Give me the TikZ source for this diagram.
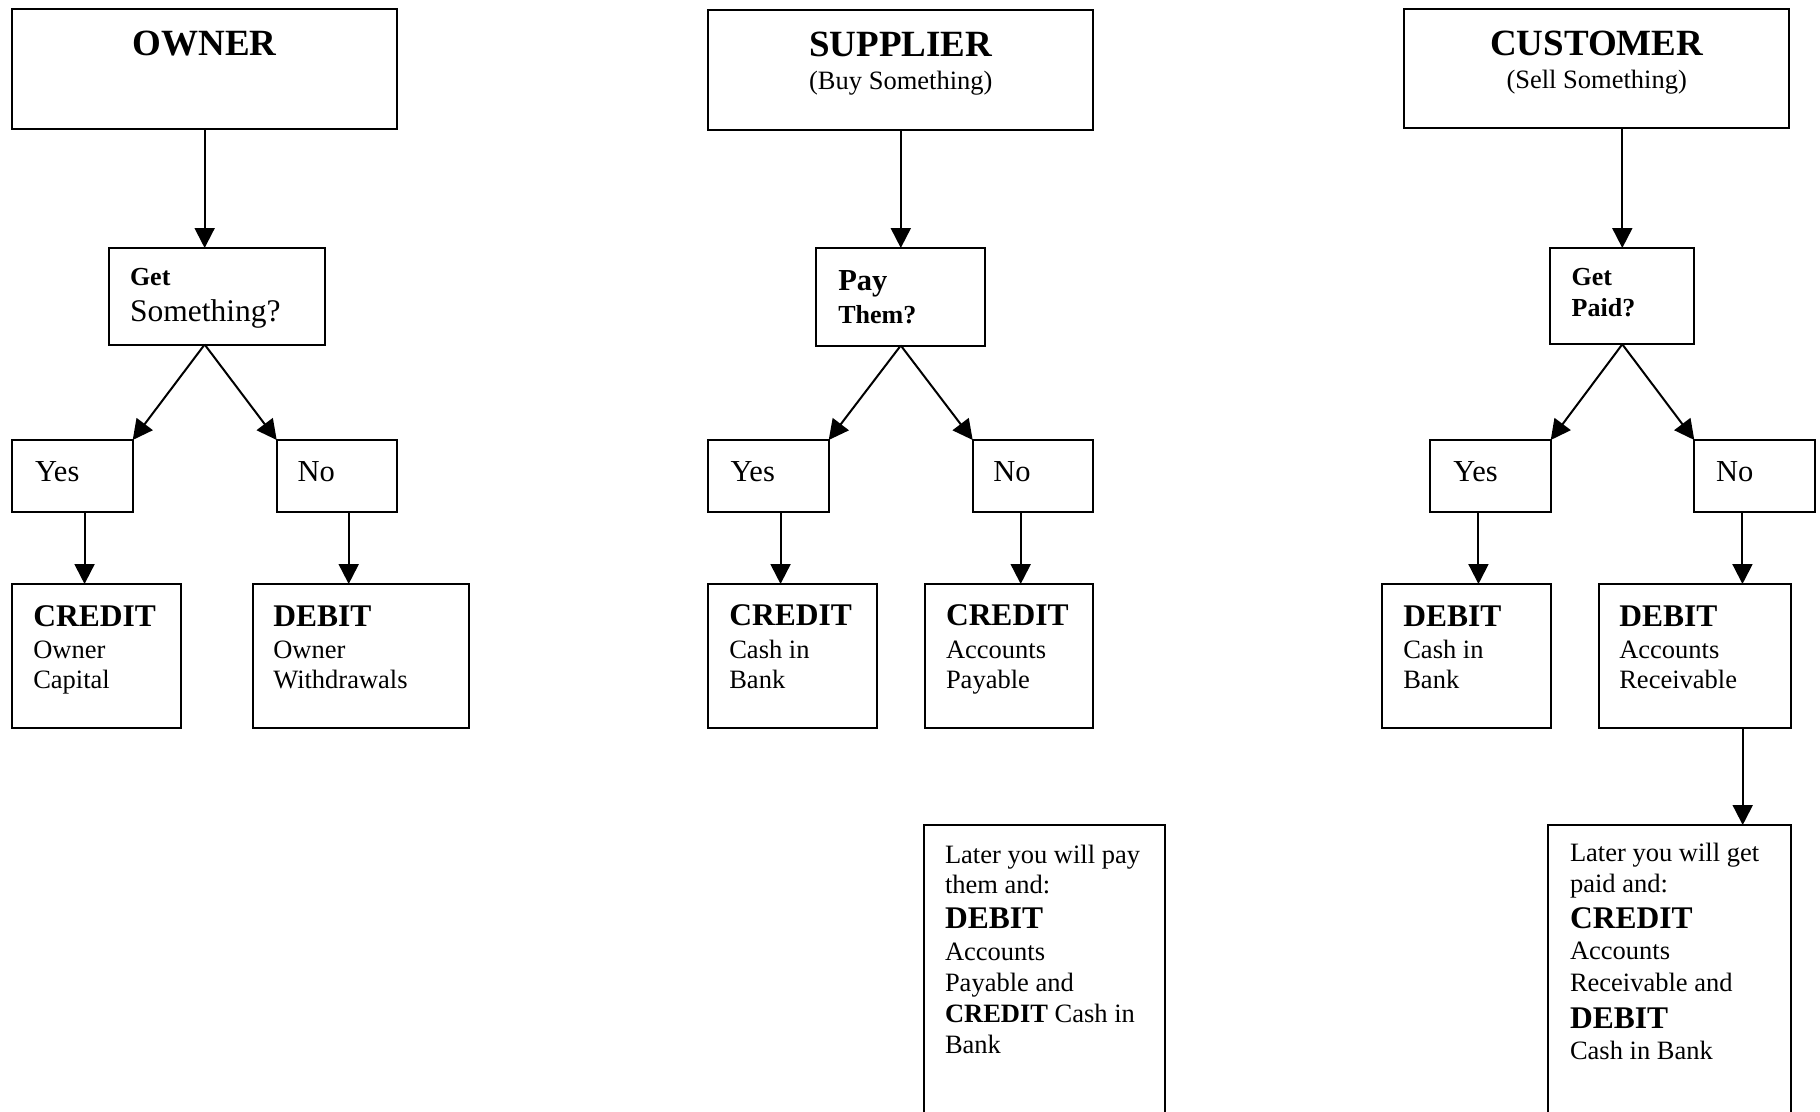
\documentclass[tikz,border=0pt]{standalone}
\usepackage{fontspec}
\setmainfont{Liberation Serif}
\usetikzlibrary{arrows.meta,calc}

% a framed box given by its corners (x1,y1) and (x2,y2)
\newcommand\mkbox[5]{\node[box, minimum width={#4-#2}, minimum height={#5-#3}] (#1) at ({(#2+#4)/2},{(#3+#5)/2}) {};}
% one line of text, placed by its baseline
\newcommand\tline[5][txt]{\node[#1] (#2) at (#3,#4) {#5};}

\begin{document}
\begin{tikzpicture}[x=1pt,y=-1pt,
  box/.style={draw, line width=2pt, rectangle, inner sep=0pt, outer sep=0pt},
  arr/.style={line width=2pt, -{Triangle[length=20pt,width=20pt]}},
  txt/.style={anchor=base west, inner sep=0pt, outer sep=0pt, font=\fontsize{26.5}{30}\selectfont},
  ttl/.style={anchor=base, inner sep=0pt, font=\fontsize{37}{42}\selectfont\bfseries},
  sub/.style={anchor=base, inner sep=0pt, font=\fontsize{26.5}{30}\selectfont},
  yn/.style={txt, font=\fontsize{30.5}{34}\selectfont},
  kw/.style={txt, font=\fontsize{31.5}{36}\selectfont\bfseries},
  qsmall/.style={txt, font=\fontsize{26}{30}\selectfont\bfseries},
  qbig/.style={txt, font=\fontsize{31.5}{36}\selectfont},
  qbigb/.style={txt, font=\fontsize{30.5}{34}\selectfont\bfseries},
]
\useasboundingbox (0,0) rectangle (1820,1111);
\clip (0,0) rectangle (1820,1111);

% ---------------- OWNER ----------------
\mkbox{owner}{12.3}{8.7}{397}{128.7}
\mkbox{qA}{108.7}{248}{325}{344.5}
\mkbox{yesa}{12.3}{440}{132.7}{512.3}
\mkbox{noa}{276.7}{440}{396.7}{512.3}
\mkbox{ra}{12.3}{584}{181}{728.3}
\mkbox{rb}{252.7}{584}{469.3}{728.3}

\tline[ttl]{owner-t}{204.7}{55}{OWNER}
\tline[qsmall]{qA-1}{130}{285}{Get}
\tline[qbig]{qA-2}{130}{321.7}{Something?}
\tline[yn]{yesa-t}{35}{481}{Yes}
\tline[yn]{noa-t}{297.7}{481}{No}
\tline[kw]{ra-1}{33.3}{626.7}{CREDIT}
\tline{ra-2}{33.3}{658.3}{Owner}
\tline{ra-3}{33.3}{688.3}{Capital}
\tline[kw]{rb-1}{273.3}{626.7}{DEBIT}
\tline{rb-2}{273.3}{658.3}{Owner}
\tline{rb-3}{273.3}{688.3}{Withdrawals}

\draw[arr] (owner.south) -- (owner.south |- qA.north);
\coordinate (qA-out) at (owner.south |- qA.south);
\draw[arr] (qA-out) -- (yesa.north east);
\draw[arr] (qA-out) -- (noa.north west);
\coordinate (ya) at ($(yesa.south west)!0.6!(yesa.south east)$);
\draw[arr] (ya) -- (ya |- ra.north);
\coordinate (na) at ($(noa.south west)!0.6!(noa.south east)$);
\draw[arr] (na) -- (na |- rb.north);

% ---------------- SUPPLIER ----------------
\mkbox{supplier}{708.3}{9.7}{1093.3}{130}
\mkbox{qB}{816.3}{248}{985}{345.5}
\mkbox{yesb}{708.3}{440}{828.7}{512.3}
\mkbox{nob}{972.7}{440}{1092.7}{512.3}
\mkbox{rc}{708.3}{584}{876.7}{728.3}
\mkbox{rd}{924.5}{584}{1093}{728.3}
\mkbox{la}{924}{824.5}{1165}{1140}

\tline[ttl]{supplier-t}{900.8}{56}{SUPPLIER}
\tline[sub]{supplier-s}{900.8}{89.3}{(Buy Something)}
\tline[qbigb]{qB-1}{838.3}{290}{Pay}
\tline[qsmall]{qB-2}{838.3}{323.3}{Them?}
\tline[yn]{yesb-t}{730.5}{481}{Yes}
\tline[yn]{nob-t}{993.3}{481}{No}
\tline[kw]{rc-1}{729.3}{625.5}{CREDIT}
\tline{rc-2}{729.3}{658.3}{Cash in}
\tline{rc-3}{729.3}{688.3}{Bank}
\tline[kw]{rd-1}{946}{625.5}{CREDIT}
\tline{rd-2}{946}{658.3}{Accounts}
\tline{rd-3}{946}{688.3}{Payable}
\tline{la-1}{945}{863.3}{Later you will pay}
\tline{la-2}{945}{893.3}{them and:}
\tline[kw]{la-3}{945}{928.3}{DEBIT}
\tline{la-4}{945}{960}{Accounts}
\tline{la-5}{945}{991.7}{Payable and}
\tline{la-6}{945}{1022.7}{\textbf{CREDIT} Cash in}
\tline{la-7}{945}{1053.3}{Bank}

\draw[arr] (supplier.south) -- (supplier.south |- qB.north);
\coordinate (qB-out) at (supplier.south |- qB.south);
\draw[arr] (qB-out) -- (yesb.north east);
\draw[arr] (qB-out) -- (nob.north west);
\coordinate (yb) at ($(yesb.south west)!0.6!(yesb.south east)$);
\draw[arr] (yb) -- (yb |- rc.north);
\coordinate (nb) at ($(nob.south west)!0.4!(nob.south east)$);
\draw[arr] (nb) -- (nb |- rd.north);

% ---------------- CUSTOMER ----------------
\mkbox{customer}{1404.3}{8.7}{1789}{128.3}
\mkbox{qC}{1550.3}{248}{1694.3}{344.3}
\mkbox{yesc}{1430.3}{440}{1550.7}{512.3}
\mkbox{noc}{1694.3}{440}{1814.7}{512.3}
\mkbox{re}{1382.3}{584}{1550.7}{728.3}
\mkbox{rf}{1598.7}{584}{1790.7}{728.3}
\mkbox{lb}{1548.3}{825}{1790.7}{1140}

\tline[ttl]{customer-t}{1596.7}{55}{CUSTOMER}
\tline[sub]{customer-s}{1596.7}{88.3}{(Sell Something)}
\tline[qsmall]{qC-1}{1571.7}{285}{Get}
\tline[qsmall]{qC-2}{1571.7}{316}{Paid?}
\tline[yn]{yesc-t}{1453.3}{481}{Yes}
\tline[yn]{noc-t}{1716}{481}{No}
\tline[kw]{re-1}{1403.3}{626.7}{DEBIT}
\tline{re-2}{1403.3}{658.3}{Cash in}
\tline{re-3}{1403.3}{688.3}{Bank}
\tline[kw]{rf-1}{1619.3}{626.7}{DEBIT}
\tline{rf-2}{1619.3}{658.3}{Accounts}
\tline{rf-3}{1619.3}{688.3}{Receivable}
\tline{lb-1}{1570}{861.7}{Later you will get}
\tline{lb-2}{1570}{892.7}{paid and:}
\tline[kw]{lb-3}{1570}{928.3}{CREDIT}
\tline{lb-4}{1570}{959.3}{Accounts}
\tline{lb-5}{1570}{991}{Receivable and}
\tline[kw]{lb-6}{1570}{1028.3}{DEBIT}
\tline{lb-7}{1570}{1059.3}{Cash in Bank}

\draw[arr] (qC.north |- customer.south) -- (qC.north);
\draw[arr] (qC.south) -- (yesc.north east);
\draw[arr] (qC.south) -- (noc.north west);
\coordinate (yc) at ($(yesc.south west)!0.4!(yesc.south east)$);
\draw[arr] (yc) -- (yc |- re.north);
\coordinate (nc) at ($(noc.south west)!0.4!(noc.south east)$);
\draw[arr] (nc) -- (nc |- rf.north);
\coordinate (nf) at ($(rf.south west)!0.75!(rf.south east)$);
\draw[arr] (nf) -- (nf |- lb.north);
\end{tikzpicture}
\end{document}
